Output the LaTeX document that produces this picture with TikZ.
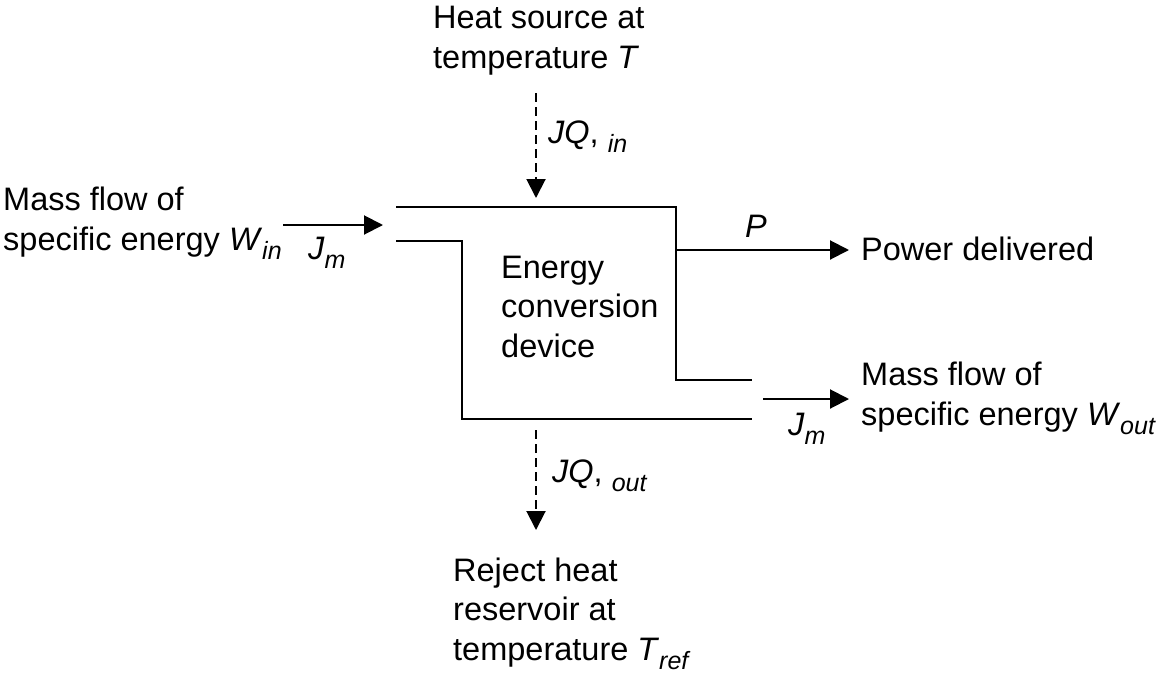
\documentclass[tikz,border=0pt]{standalone}
\usepackage{fontspec}
\setmainfont{Liberation Sans}
\usepackage{tikz}
\usetikzlibrary{arrows.meta}
\tikzset{
  flow/.style={-{Triangle[length=19pt,width=19pt]}, line width=2pt},
  heatflow/.style={flow, dash pattern=on 9pt off 5pt},
  wall/.style={line width=2pt},
  lbl/.style={inner sep=0pt, anchor=base west, align=left, font=\fontsize{32.5}{39.5}\selectfont}
}
\newcommand{\lowsub}[1]{\raisebox{-0.3em}{\fontsize{25}{25}\selectfont\itshape #1}}
\begin{document}
\begin{tikzpicture}[x=1pt,y=-1pt]
\useasboundingbox (0,0) rectangle (1158,677);
\coordinate (tl) at (396,207);
\coordinate (tr) at (676,207);
\coordinate (br) at (676,380);
\coordinate (bre) at (752,380);
\coordinate (il) at (396,241);
\coordinate (ic) at (462,241);
\coordinate (bl) at (462,419);
\coordinate (ble) at (752,419);
\coordinate (ins) at (283,225);
\coordinate (ine) at (383,225);
\coordinate (qins) at (536,93);
\coordinate (qine) at (536,198);
\coordinate (qouts) at (536,430);
\coordinate (qoute) at (536,530);
\coordinate (ps) at (676,250);
\coordinate (pe) at (849,250);
\coordinate (outs) at (763,399);
\coordinate (oute) at (849,399);
 % multi-line labels sit on their last baseline
 \node[lbl] (src) at (433,68) {Heat source at\\temperature \textit{T}};
 \node[lbl] (massin) at (3,250) {Mass flow of\\specific energy \textit{W}\lowsub{in}};
 \node[lbl] (dev) at (501,357) {Energy\\conversion\\device};
 \node[lbl] (pow) at (861,260) {Power delivered};
 \node[lbl] (massout) at (861,425) {Mass flow of\\specific energy \textit{W}\lowsub{out}};
 \node[lbl] (sink) at (453,660) {Reject heat\\reservoir at\\temperature \textit{T}\lowsub{ref}};
 \node[lbl] (jmin) at (308,259) {\textit{J}\lowsub{m}};
 \node[lbl] (jmout) at (788,435) {\textit{J}\lowsub{m}};
 \node[lbl] (qin) at (548,143) {\textit{JQ}, \lowsub{in}};
 \node[lbl] (qout) at (552,482) {\textit{JQ}, \lowsub{out}};
 \node[lbl] (p) at (745,237) {\textit{P}};
 \draw[wall] (tl) -- (tr) -- (br) -- (bre);
 \draw[wall] (il) -- (ic) -- (bl) -- (ble);
 \draw[flow] (ins) -- (ine);
 \draw[flow] (ps) -- (pe);
 \draw[flow] (outs) -- (oute);
 \draw[heatflow] (qins) -- (qine);
 \draw[heatflow] (qouts) -- (qoute);
\end{tikzpicture}
\end{document}
